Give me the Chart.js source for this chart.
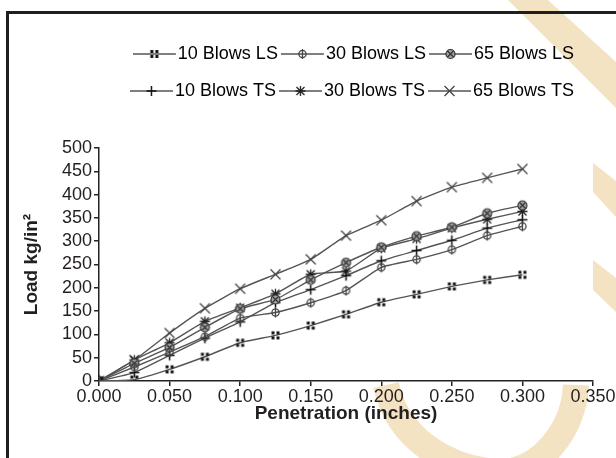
<!DOCTYPE html>
<html>
<head>
<meta charset="utf-8">
<script src="https://cdn.jsdelivr.net/npm/chart.js@4.4.1/dist/chart.umd.min.js"></script>
<style>
  html, body { margin: 0; padding: 0; background: #fff; }
  #wrap { position: relative; width: 616px; height: 458px; overflow: hidden; }
  #bg { position: absolute; left: 0; top: 0; }
  #frame { position: absolute; left: 6px; top: 11px; width: 640px; height: 480px; border: 3px solid #1f1f1f; }
  #loadChart { position: absolute; left: 0; top: 0; }
</style>
</head>
<body>
<div id="wrap">
  <!-- faint publisher watermark behind the chart -->
  <svg id="bg" width="616" height="458">
    <g fill="#f4e3c3">
      <polygon points="508,0 548,0 616,62 616,108" />
      <polygon points="593,163 616,181 616,217 593,192" />
      <polygon points="593,260 616,278 616,312 593,290" />
    </g>
    <path d="M 386 385 C 398 440, 450 470, 500 472 C 540 472, 574 430, 576 385" fill="none" stroke="#f4e3c3" stroke-width="26" />
  </svg>
  <div id="frame"></div>
  <canvas id="loadChart" width="616" height="458"></canvas>
</div>
<script>
// Penetration (inches) and load readings (kg/in^2)
const penetration = [0, 0.025, 0.05, 0.075, 0.1, 0.125, 0.15, 0.175, 0.2, 0.225, 0.25, 0.275, 0.3];
const blows10LS = [0, 3, 25, 52, 82, 98, 119, 143, 169, 186, 203, 217, 228];
const blows30LS = [0, 30, 62, 95, 135, 147, 168, 194, 244, 261, 282, 312, 332];
const blows65LS = [0, 38, 72, 115, 155, 175, 217, 254, 287, 311, 330, 360, 377];
const blows10TS = [0, 18, 55, 92, 127, 168, 196, 226, 258, 280, 302, 328, 346];
const blows30TS = [0, 45, 82, 128, 157, 187, 229, 236, 285, 305, 328, 347, 364];
const blows65TS = [0, 45, 103, 156, 198, 229, 261, 312, 345, 386, 416, 436, 455];

const seriesNames = ["10 Blows LS", "30 Blows LS", "65 Blows LS", "10 Blows TS", "30 Blows TS", "65 Blows TS"];
const loadTicks = [0, 50, 100, 150, 200, 250, 300, 350, 400, 450, 500];
const penTicks = [0, 0.05, 0.1, 0.15, 0.2, 0.25, 0.3, 0.35];

const FONT = "'Liberation Sans', Arial, sans-serif";
const LINE = "#555";

// marker glyphs, drawn once on small canvases
function drawMarker(g, kind, cx, cy) {
  g.lineCap = "butt";
  if (kind === "dots") {
    g.fillStyle = "#111";
    g.fillRect(cx - 4, cy - 4, 3, 3);
    g.fillRect(cx + 1, cy - 4, 3, 3);
    g.fillRect(cx - 4, cy + 1, 3, 3);
    g.fillRect(cx + 1, cy + 1, 3, 3);
  } else if (kind === "phi") {
    g.strokeStyle = "#444";
    g.lineWidth = 1.3;
    g.beginPath();
    g.arc(cx, cy, 3.6, 0, Math.PI * 2);
    g.moveTo(cx, cy - 5);
    g.lineTo(cx, cy + 5);
    g.stroke();
  } else if (kind === "otimes") {
    g.fillStyle = "#a0a0a0";
    g.strokeStyle = "#333";
    g.lineWidth = 1.2;
    g.beginPath();
    g.arc(cx, cy, 4.5, 0, Math.PI * 2);
    g.fill();
    g.stroke();
    g.beginPath();
    g.moveTo(cx - 3, cy - 3); g.lineTo(cx + 3, cy + 3);
    g.moveTo(cx + 3, cy - 3); g.lineTo(cx - 3, cy + 3);
    g.stroke();
  } else if (kind === "plus") {
    g.strokeStyle = "#111";
    g.lineWidth = 1.5;
    g.beginPath();
    g.moveTo(cx - 5, cy); g.lineTo(cx + 5, cy);
    g.moveTo(cx, cy - 5); g.lineTo(cx, cy + 5);
    g.stroke();
  } else if (kind === "star") {
    g.strokeStyle = "#222";
    g.lineWidth = 1.3;
    g.beginPath();
    g.moveTo(cx - 5, cy); g.lineTo(cx + 5, cy);
    g.moveTo(cx, cy - 5); g.lineTo(cx, cy + 5);
    g.moveTo(cx - 4, cy - 4); g.lineTo(cx + 4, cy + 4);
    g.moveTo(cx + 4, cy - 4); g.lineTo(cx - 4, cy + 4);
    g.stroke();
  } else {
    g.strokeStyle = "#444";
    g.lineWidth = 1.3;
    g.beginPath();
    g.moveTo(cx - 5, cy - 5); g.lineTo(cx + 5, cy + 5);
    g.moveTo(cx + 5, cy - 5); g.lineTo(cx - 5, cy + 5);
    g.stroke();
  }
}

function pointImage(kind) {
  const c = document.createElement("canvas");
  c.width = 13;
  c.height = 13;
  drawMarker(c.getContext("2d"), kind, 6.5, 6.5);
  return c;
}

// legend icon: short line with the marker in the middle
function legendImage(kind) {
  const c = document.createElement("canvas");
  c.width = 52;
  c.height = 18;
  const g = c.getContext("2d");
  g.strokeStyle = LINE;
  g.lineWidth = 1.5;
  g.beginPath();
  g.moveTo(0, 9);
  g.lineTo(43, 9);
  g.stroke();
  drawMarker(g, kind, 21.5, 9);
  return c;
}

const kinds = ["dots", "phi", "otimes", "plus", "star", "cross"];
const allSeries = [blows10LS, blows30LS, blows65LS, blows10TS, blows30TS, blows65TS];
const legendIcons = kinds.map(legendImage);

// push the plot down below the legend
const legendMargin = {
  id: "legendMargin",
  beforeInit(chart) {
    const fit = chart.legend.fit;
    chart.legend.fit = function () {
      fit.bind(chart.legend)();
      this.height += 38;
    };
  },
};

const ctx = document.getElementById("loadChart").getContext("2d");
const loadChart = new Chart(ctx, {
  type: "line",
  data: {
    labels: penetration,
    datasets: allSeries.map((values, i) => ({
      label: seriesNames[i],
      data: values,
      borderColor: LINE,
      borderWidth: 1.4,
      pointStyle: pointImage(kinds[i]),
      pointRadius: 5,
      tension: 0.15,
      fill: false,
    })),
  },
  options: {
    responsive: false,
    animation: false,
    devicePixelRatio: 1,
    layout: {
      padding: { left: 10, right: 23, top: 26, bottom: 28.6 },
    },
    plugins: {
      tooltip: { enabled: false },
      legend: {
        position: "top",
        align: "end",
        labels: {
          usePointStyle: true,
          pointStyleWidth: 20,
          padding: 19,
          color: "#231f20",
          font: { family: FONT, size: 18 },
          generateLabels: (chart) =>
            chart.data.datasets.map((ds, i) => ({
              text: ds.label,
              pointStyle: legendIcons[i],
              fillStyle: "rgba(0,0,0,0)",
              strokeStyle: "rgba(0,0,0,0)",
              lineWidth: 0,
              hidden: false,
              datasetIndex: i,
            })),
        },
      },
    },
    scales: {
      x: {
        type: "linear",
        min: penTicks[0],
        max: penTicks[penTicks.length - 1],
        afterFit: (scale) => {
          scale.paddingRight = 23;
        },
        ticks: {
          stepSize: penTicks[1] - penTicks[0],
          autoSkip: false,
          maxRotation: 0,
          padding: 0,
          color: "#231f20",
          font: { family: FONT, size: 18 },
          callback: (v) => Number(v).toFixed(3),
        },
        grid: { drawOnChartArea: false, tickLength: 5, color: "#222", lineWidth: 1.5 },
        border: { color: "#222", width: 1.5 },
        title: {
          display: true,
          text: "Penetration (inches)",
          color: "#231f20",
          font: { family: FONT, size: 19, weight: "bold" },
          padding: { top: -5, bottom: 4 },
        },
      },
      y: {
        min: loadTicks[0],
        max: loadTicks[loadTicks.length - 1],
        ticks: {
          stepSize: loadTicks[1] - loadTicks[0],
          autoSkip: false,
          padding: 2,
          color: "#231f20",
          font: { family: FONT, size: 18 },
        },
        grid: { drawOnChartArea: false, tickLength: 5, color: "#222", lineWidth: 1.5 },
        border: { color: "#222", width: 1.5 },
        title: {
          display: true,
          text: "Load kg/in²",
          color: "#231f20",
          font: { family: FONT, size: 19, weight: "bold" },
          padding: { top: 10.6, bottom: 16.6 },
        },
      },
    },
  },
  plugins: [legendMargin],
});
</script>
</body>
</html>
